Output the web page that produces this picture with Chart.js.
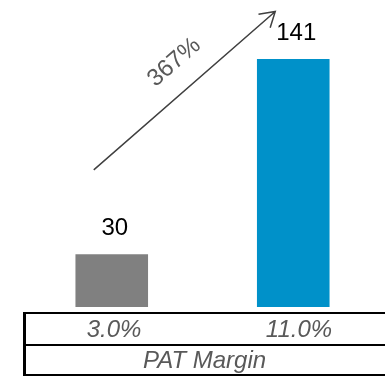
<!DOCTYPE html>
<html>
<head>
<meta charset="utf-8">
<script src="https://cdn.jsdelivr.net/npm/chart.js"></script>
<style>
  body { margin: 0; background: #fff; overflow: hidden; }
  #wrap { position: relative; width: 385px; height: 379px; }
  #table {
    position: absolute; left: 23px; top: 312px; width: 372px;
    border: 2px solid #000; border-left-width: 3px;
    font: italic 24px "Liberation Sans", Arial, sans-serif; color: #595959;
  }
  .row { display: flex; }
  .row.margins { height: 30px; border-bottom: 2px solid #000; }
  .row.title { height: 28px; }
  .cell { text-align: center; line-height: 30px; }
  .row.title .cell { line-height: 28px; width: 100%; padding-right: 15px; }
</style>
</head>
<body>
<div id="wrap">
  <canvas id="myChart" width="385" height="379"></canvas>
  <div id="table">
    <div class="row margins" id="marginRow"></div>
    <div class="row title"><div class="cell" id="rowTitle"></div></div>
  </div>
</div>
<script>
const categories = ["Before", "After"];
const values = [30, 141];
const colors = ["#808080", "#0091C9"];
const margins = ["3.0%", "11.0%"];
const rowTitle = "PAT Margin";
const growthLabel = "367%";

// margin row under the bars
const marginRow = document.getElementById("marginRow");
const cellWidths = [176, 194];
margins.forEach((m, i) => {
  const cell = document.createElement("div");
  cell.className = "cell";
  cell.style.width = cellWidths[i] + "px";
  cell.textContent = m;
  marginRow.appendChild(cell);
});
document.getElementById("rowTitle").textContent = rowTitle;

const valueLabels = {
  id: "valueLabels",
  afterDatasetsDraw(chart) {
    const ctx = chart.ctx;
    const meta = chart.getDatasetMeta(0);
    ctx.save();
    ctx.font = '24px "Liberation Sans", Arial, sans-serif';
    ctx.fillStyle = "#000";
    ctx.textAlign = "center";
    ctx.textBaseline = "alphabetic";
    meta.data.forEach((bar, i) => {
      ctx.fillText(String(values[i]), bar.x + 3, bar.y - 19);
    });
    ctx.restore();
  },
};

const growthArrow = {
  id: "growthArrow",
  afterDraw(chart) {
    const ctx = chart.ctx;
    const x = chart.scales.x;
    const y = chart.scales.y;
    const x1 = x.getPixelForValue(0) - 18;
    const y1 = y.getPixelForValue(78);
    const x2 = x.getPixelForValue(1) - 18;
    const y2 = y.getPixelForValue(168);
    const ang = Math.atan2(y2 - y1, x2 - x1);

    ctx.save();
    ctx.strokeStyle = "#404040";
    ctx.lineWidth = 1.5;
    ctx.beginPath();
    ctx.moveTo(x1, y1);
    ctx.lineTo(x2, y2);
    const head = 17;
    ctx.moveTo(x2 - head * Math.cos(ang - 0.55), y2 - head * Math.sin(ang - 0.55));
    ctx.lineTo(x2, y2);
    ctx.lineTo(x2 - head * Math.cos(ang + 0.55), y2 - head * Math.sin(ang + 0.55));
    ctx.stroke();

    // label above the middle of the arrow
    const len = Math.hypot(x2 - x1, y2 - y1);
    const ux = (x2 - x1) / len, uy = (y2 - y1) / len;
    const t = len * 0.545;
    const cx = x1 + ux * t + uy * 28;
    const cy = y1 + uy * t - ux * 28;
    ctx.translate(cx, cy);
    ctx.rotate(ang);
    ctx.font = '24px "Liberation Sans", Arial, sans-serif';
    ctx.fillStyle = "#595959";
    ctx.textAlign = "center";
    ctx.textBaseline = "middle";
    ctx.fillText(growthLabel, 0, 0);
    ctx.restore();
  },
};

const ctx = document.getElementById("myChart").getContext("2d");
new Chart(ctx, {
  type: "bar",
  data: {
    labels: categories,
    datasets: [
      {
        data: values,
        backgroundColor: colors,
        barPercentage: 0.4,
        categoryPercentage: 1,
      },
    ],
  },
  options: {
    responsive: false,
    animation: false,
    layout: { padding: { left: 21, right: 1, top: 8, bottom: 72 } },
    scales: {
      x: { display: false },
      y: { display: false, min: 0, max: 170 },
    },
    plugins: {
      legend: { display: false },
      tooltip: { enabled: false },
    },
  },
  plugins: [valueLabels, growthArrow],
});
</script>
</body>
</html>
